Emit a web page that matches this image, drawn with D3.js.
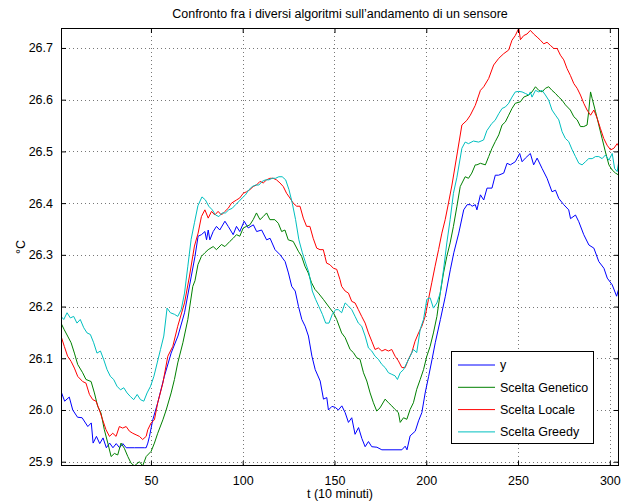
<!DOCTYPE html>
<html>
<head>
<meta charset="utf-8">
<script src="https://cdn.jsdelivr.net/npm/d3@7/dist/d3.min.js"></script>
<style>
  html, body { margin: 0; padding: 0; background: #fff; }
  svg { display: block; font-family: "Liberation Sans", Arial, Helvetica, sans-serif; }
</style>
</head>
<body>
<svg id="chart" width="628" height="502"></svg>
<script>
// ---------------- data ----------------
const chartTitle = "Confronto fra i diversi algoritmi sull\u2019andamento di un sensore";
const xLabel = "t (10 minuti)";
const yLabel = "\u00B0C";
const xTicks = [50, 100, 150, 200, 250, 300];
const yTicks = [25.9, 26.0, 26.1, 26.2, 26.3, 26.4, 26.5, 26.6, 26.7];
const xDomain = [1, 305];
const yDomain = [25.8917, 26.7386];
const seriesNames = ["y", "Scelta Genetico", "Scelta Locale", "Scelta Greedy"];
const seriesColors = ["#0000ff", "#008000", "#ff0000", "#00bfbf"];

const tY = [1,3,5.5,7.4,10,12.5,15.6,17.5,18.5,20.3,22.1,23.9,25.7,27.5,29.3,31.1,32.9,34.7,36.5,41,46.5,47.4,48.3,49.2,51,53.7,57.3,61,64.7,68.3,72,74,75.7,77.5,79.4,80.3,81.2,82.1,83.9,85.7,87.5,90.3,92.1,94.8,96.6,98.4,100.8,103,105.8,107.6,110.3,113,114.9,117.6,120.4,123.1,124.9,126.7,128.6,130.4,132.2,134,135.8,137.7,139.5,142.2,144,145.8,146.7,148.6,150.4,152.1,154,155.8,157.6,159.4,161.2,163.1,164.9,166.7,168.5,170.3,173.1,175.8,186.7,188.5,189.5,191.2,194,195.8,197.6,199.4,201.3,203.1,204.9,207.7,210.4,213.1,215,217.7,220.4,222.3,224,225,226.7,227.6,229.5,231.3,233.1,235.8,237.6,239.4,242.2,244,245.8,248.5,250.9,252.2,254,256.7,258.5,260.4,263.1,265.8,268.5,270.4,272.2,274.9,277.6,278.6,281.3,283.1,285.8,288.6,291.3,294,296.8,298.6,301.3,303.7,305];
const vY = [26.036,26.017,26.025,26.000,25.986,25.985,25.968,25.975,25.936,25.949,25.935,25.946,25.927,25.936,25.927,25.935,25.927,25.935,25.927,25.927,25.927,25.927,25.936,25.949,25.981,26.014,26.065,26.110,26.143,26.188,26.259,26.297,26.336,26.339,26.345,26.329,26.348,26.329,26.345,26.355,26.348,26.365,26.355,26.339,26.355,26.345,26.365,26.352,26.358,26.345,26.348,26.329,26.332,26.310,26.300,26.287,26.265,26.239,26.230,26.200,26.175,26.162,26.143,26.104,26.078,26.056,26.021,26.024,26.000,26.007,26.005,26.000,26.008,25.995,25.976,25.985,25.953,25.966,25.945,25.929,25.939,25.929,25.928,25.923,25.923,25.930,25.923,25.950,25.959,25.979,25.995,26.033,26.065,26.097,26.130,26.175,26.220,26.271,26.304,26.342,26.387,26.397,26.397,26.394,26.397,26.387,26.416,26.406,26.429,26.429,26.454,26.454,26.458,26.477,26.474,26.480,26.496,26.480,26.487,26.496,26.474,26.487,26.467,26.448,26.422,26.425,26.409,26.397,26.387,26.370,26.377,26.364,26.339,26.319,26.313,26.287,26.274,26.255,26.242,26.220,26.236];

const tGen = [1,2.8,4.6,6.5,8.3,10.1,12.8,14.6,17.4,19.2,21,22.8,24.6,26.5,28.3,30.1,31.9,33.7,35.5,37.4,39.2,41,43.7,45.5,47.4,50.1,51.9,53.7,56.5,58.3,61,62.8,64.6,67.4,70.1,72.8,74,75.6,77.5,79.4,81.2,83.9,85.7,88.4,90.3,93,94.8,96.6,98.4,100.3,102.1,103.9,105.7,107.5,109.4,111.2,113,114.8,117.5,119.4,121.2,123,124.8,127.5,130.3,132.1,133.9,135.7,137.5,139.4,141.2,143.9,146.6,149.4,151.2,153.9,155.8,158.5,160.3,162.1,163.9,165.8,167.6,169.4,171.2,173,174.8,177.6,179.4,181.2,183,184.8,185.8,187.6,189.4,191.2,193,194.8,196.7,198.5,200.3,202.1,203.9,205.8,207.6,209.4,211.2,213,214.8,216.7,218.5,221.2,223,224.8,226.7,227.6,229.5,232.2,234,235.8,237.6,239.5,241.3,243.1,244.9,246.7,248.5,251.3,253.1,255.8,257.6,259.5,261.3,263.1,264.9,266.7,268.5,270.4,272.2,274,275.8,278.5,280.4,282.2,284,285.8,287.6,288.5,289.5,290.4,292.2,294,295.8,297.6,299.5,301.3,303.1,305];
const vGen = [26.168,26.155,26.143,26.130,26.110,26.088,26.072,26.059,26.055,26.033,26.007,25.994,25.962,25.936,25.910,25.916,25.913,25.936,25.926,25.910,25.897,25.892,25.900,25.892,25.910,25.920,25.936,25.955,25.981,26.000,26.033,26.059,26.091,26.130,26.175,26.239,26.250,26.281,26.297,26.304,26.310,26.316,26.310,26.320,26.316,26.326,26.332,26.339,26.336,26.352,26.355,26.358,26.368,26.381,26.368,26.374,26.381,26.368,26.368,26.361,26.345,26.348,26.329,26.326,26.307,26.297,26.278,26.265,26.246,26.233,26.226,26.214,26.201,26.188,26.175,26.149,26.140,26.117,26.111,26.101,26.098,26.072,26.056,26.033,26.014,25.998,26.004,26.021,26.014,26.008,26.001,25.995,25.976,25.985,25.982,26.001,26.014,26.040,26.059,26.078,26.104,26.123,26.149,26.181,26.226,26.265,26.297,26.323,26.355,26.394,26.432,26.451,26.448,26.458,26.474,26.474,26.477,26.474,26.490,26.506,26.519,26.532,26.551,26.557,26.570,26.583,26.593,26.596,26.605,26.609,26.615,26.625,26.618,26.615,26.622,26.625,26.618,26.612,26.605,26.599,26.590,26.580,26.567,26.561,26.548,26.548,26.551,26.577,26.615,26.602,26.577,26.551,26.525,26.499,26.474,26.464,26.458,26.454];

const tLoc = [1,2.8,4.6,6.5,8.3,10.1,12.8,14.6,16.5,18.3,20.1,21.9,23.7,25.5,27.4,29.2,31,32.8,34.6,36.5,38.3,40.1,41.9,43.7,45.5,47.4,48.3,50.1,51.9,53.7,56.5,59.2,61.9,64.6,68.3,71,73.7,75.7,77.5,79.4,81.2,83,84.8,86.6,88.4,90.3,92.1,93.9,96.6,98.4,100.3,102.1,103.9,105.7,107.5,109.4,111.2,113,114.8,116.6,118.4,120.3,122.1,123.9,125.7,127.5,129.4,131.2,133,134.8,136.6,138.4,140.3,142.1,143.9,145.7,147.5,149.4,151.2,153,153.9,155.8,157.6,159.4,161.2,163,164.8,166.7,168.5,170.3,172.1,173.9,175.8,177.6,179.4,181.2,183,184.8,186.7,188.5,190.3,192.1,193.9,195.8,197.6,199.4,201.2,203,204.8,206.7,208.5,210.3,212.1,214,216.7,219.4,222.1,224,226.7,229.5,231.3,234,236.7,239.5,242.2,244.9,246.7,248.5,250.4,251.3,253.1,254.9,256.7,258.5,260.4,262.2,264,265.8,267.6,269.5,271.3,273.1,274.9,276.7,278.5,280.4,282.2,284,285.8,287.6,289.5,291.3,293.1,294.9,296.7,298.5,300.4,302.2,304,305];
const vLoc = [26.143,26.123,26.104,26.094,26.081,26.065,26.055,26.052,26.030,26.020,26.017,26.000,25.981,25.962,25.949,25.955,25.949,25.968,25.965,25.968,25.959,25.955,25.952,25.949,25.943,25.949,25.962,25.975,25.981,26.014,26.052,26.104,26.123,26.162,26.207,26.259,26.317,26.342,26.374,26.387,26.371,26.384,26.377,26.384,26.377,26.384,26.390,26.400,26.406,26.410,26.419,26.422,26.426,26.432,26.435,26.442,26.439,26.445,26.448,26.448,26.445,26.439,26.432,26.419,26.410,26.400,26.394,26.394,26.371,26.355,26.355,26.332,26.313,26.310,26.310,26.284,26.281,26.274,26.272,26.252,26.239,26.230,26.226,26.210,26.207,26.194,26.181,26.168,26.149,26.133,26.117,26.120,26.114,26.117,26.114,26.117,26.104,26.095,26.082,26.082,26.098,26.111,26.133,26.149,26.162,26.181,26.214,26.246,26.278,26.310,26.342,26.368,26.400,26.435,26.493,26.551,26.560,26.570,26.589,26.618,26.625,26.641,26.667,26.680,26.689,26.696,26.715,26.724,26.738,26.716,26.724,26.727,26.734,26.727,26.721,26.715,26.708,26.711,26.705,26.699,26.699,26.686,26.677,26.660,26.647,26.631,26.622,26.609,26.593,26.580,26.570,26.580,26.564,26.544,26.525,26.512,26.503,26.506,26.515,26.509];

const tGre = [1,2.5,4.3,6.1,7.9,9.7,11.5,13.4,15.2,17,18.8,20.6,22.5,24.3,26.1,27.9,29.7,31.5,33.4,35.2,37,38.8,40.6,42.5,44.3,46.1,47.9,49.8,51.6,53.4,55.2,57,58.8,60.6,62.8,64.6,66.5,68.3,70.1,71.9,73.7,75.6,77.8,79.7,81.5,83.4,85.2,87,88.8,90.6,92.4,94.3,96.1,97.9,99.7,101.5,103.4,105.2,107,108.8,110.6,112.4,114.3,116.1,117.9,119.7,121.5,123.4,125.2,127,128.8,130.6,132.5,134.3,136.1,137.9,139.7,141.5,143.4,145.2,147,148.8,150.6,152.1,153.9,155.8,157.6,159.4,161.2,163,164.8,166.7,168.5,170.3,172.1,173.9,175.8,177.6,179.4,181.2,183,184.3,185.8,187.6,189.4,191.2,193,194.8,196.7,198.5,200.3,202.1,203.9,205.8,207.6,209.4,211.2,213,214.8,216.7,219.4,221.2,223,225.7,228.5,231.2,233,235.7,237.5,239.5,241.3,243.1,244.9,246.7,248.5,250.4,252.2,254,255.8,256.7,257.6,259.5,261.3,263.1,264.9,266.7,268.5,270.4,272.2,274,275.8,277.6,279.5,281.3,283.1,284.9,286.7,288.5,290.4,292.2,294,295.8,297.6,299.5,301.3,302.6,304,305];
const vGre = [26.181,26.175,26.188,26.178,26.181,26.168,26.175,26.159,26.149,26.146,26.130,26.110,26.114,26.097,26.078,26.065,26.059,26.046,26.039,26.043,26.033,26.026,26.020,26.030,26.020,26.017,26.033,26.046,26.065,26.091,26.117,26.143,26.197,26.188,26.185,26.181,26.194,26.226,26.278,26.330,26.362,26.395,26.412,26.406,26.394,26.387,26.377,26.374,26.381,26.381,26.387,26.390,26.397,26.403,26.410,26.416,26.426,26.432,26.435,26.435,26.442,26.445,26.445,26.448,26.448,26.451,26.451,26.445,26.426,26.400,26.368,26.329,26.304,26.284,26.265,26.230,26.214,26.200,26.185,26.168,26.168,26.185,26.194,26.194,26.188,26.207,26.201,26.194,26.181,26.168,26.162,26.143,26.120,26.114,26.104,26.098,26.088,26.082,26.072,26.069,26.066,26.059,26.072,26.078,26.091,26.104,26.117,26.111,26.156,26.175,26.214,26.217,26.197,26.207,26.226,26.271,26.323,26.368,26.419,26.450,26.506,26.518,26.515,26.520,26.518,26.522,26.540,26.554,26.560,26.573,26.583,26.586,26.593,26.605,26.615,26.616,26.615,26.612,26.609,26.615,26.605,26.618,26.615,26.618,26.609,26.599,26.580,26.570,26.561,26.538,26.525,26.519,26.503,26.490,26.477,26.474,26.480,26.486,26.486,26.490,26.490,26.486,26.493,26.483,26.496,26.467,26.461,26.483];

const seriesT = [tY, tGen, tLoc, tGre];
const seriesV = [vY, vGen, vLoc, vGre];

// ---------------- chart ----------------
const svg = d3.select("#chart");
const L = 61, R = 619, T = 28, B = 466;
const x = d3.scaleLinear().domain(xDomain).range([L, R]);
const y = d3.scaleLinear().domain(yDomain).range([B, T]);
const font = "12.5px";

// grid
const grid = svg.append("g");
grid.selectAll("line.gx").data(xTicks).join("line")
  .attr("x1", d => Math.round(x(d)) + 0.5).attr("x2", d => Math.round(x(d)) + 0.5)
  .attr("y1", T).attr("y2", B)
  .attr("stroke", "#777").attr("stroke-width", 1).attr("stroke-dasharray", "1,3");
grid.selectAll("line.gy").data(yTicks).join("line")
  .attr("y1", d => Math.round(y(d)) + 0.5).attr("y2", d => Math.round(y(d)) + 0.5)
  .attr("x1", L).attr("x2", R)
  .attr("stroke", "#777").attr("stroke-width", 1).attr("stroke-dasharray", "1,3");

// clip
svg.append("defs").append("clipPath").attr("id", "clip")
  .append("rect").attr("x", L).attr("y", T).attr("width", R - L).attr("height", B - T);

// lines
const lineGen = d3.line().x(d => x(d[0])).y(d => y(d[1]));
const lines = svg.append("g").attr("clip-path", "url(#clip)");
seriesNames.forEach((name, i) => {
  const pts = seriesT[i].map((t, j) => [t, seriesV[i][j]]);
  lines.append("path").datum(pts)
    .attr("d", lineGen)
    .attr("fill", "none")
    .attr("stroke", seriesColors[i])
    .attr("stroke-width", 1)
    .attr("stroke-linejoin", "round");
});

// axes (MATLAB-style box with inward ticks)
const tickLen = 5;
const axBottom = d3.axisBottom(x).tickValues(xTicks).tickSizeInner(-tickLen).tickSizeOuter(0).tickPadding(10).tickFormat(d3.format("d"));
const axTop = d3.axisTop(x).tickValues(xTicks).tickSizeInner(-tickLen).tickSizeOuter(0).tickFormat("");
const axLeft = d3.axisLeft(y).tickValues(yTicks).tickSizeInner(-tickLen).tickSizeOuter(0).tickPadding(8).tickFormat(d3.format(".1f"));
const axRight = d3.axisRight(y).tickValues(yTicks).tickSizeInner(-tickLen).tickSizeOuter(0).tickFormat("");

function styleAxis(g) {
  g.select(".domain").remove();
  g.selectAll(".tick line").attr("stroke", "#000");
  g.selectAll("text").attr("fill", "#000").style("font-size", font)
    .style("font-family", "'Liberation Sans', Arial, sans-serif");
}
svg.append("g").attr("transform", `translate(0,${B})`).call(axBottom).call(styleAxis);
svg.append("g").attr("transform", `translate(0,${T})`).call(axTop).call(styleAxis);
svg.append("g").attr("transform", `translate(${L},0)`).call(axLeft).call(styleAxis);
svg.append("g").attr("transform", `translate(${R},0)`).call(axRight).call(styleAxis);

// box
svg.append("rect").attr("x", L + 0.5).attr("y", T + 0.5).attr("width", R - L - 1).attr("height", B - T - 1)
  .attr("fill", "none").attr("stroke", "#000").attr("stroke-width", 1);

// title & labels
svg.append("text").attr("x", (L + R) / 2).attr("y", 18).attr("text-anchor", "middle")
  .style("font-size", font).text(chartTitle);
svg.append("text").attr("x", (L + R) / 2).attr("y", 498).attr("text-anchor", "middle")
  .style("font-size", font).text(xLabel);
svg.append("text").attr("transform", `translate(25,${(T + B) / 2}) rotate(-90)`).attr("text-anchor", "middle")
  .style("font-size", font).text(yLabel);

// legend
const lg = svg.append("g").attr("transform", "translate(451,351)");
lg.append("rect").attr("x", 0.5).attr("y", 0.5).attr("width", 142).attr("height", 92)
  .attr("fill", "#fff").attr("stroke", "#000").attr("stroke-width", 1);
seriesNames.forEach((name, i) => {
  const cy = 14 + i * 22.3;
  lg.append("line").attr("x1", 7).attr("x2", 44).attr("y1", cy).attr("y2", cy)
    .attr("stroke", seriesColors[i]).attr("stroke-width", 1);
  lg.append("text").attr("x", 49).attr("y", cy).attr("dy", "0.35em")
    .style("font-size", font).text(name);
});
</script>
</body>
</html>
